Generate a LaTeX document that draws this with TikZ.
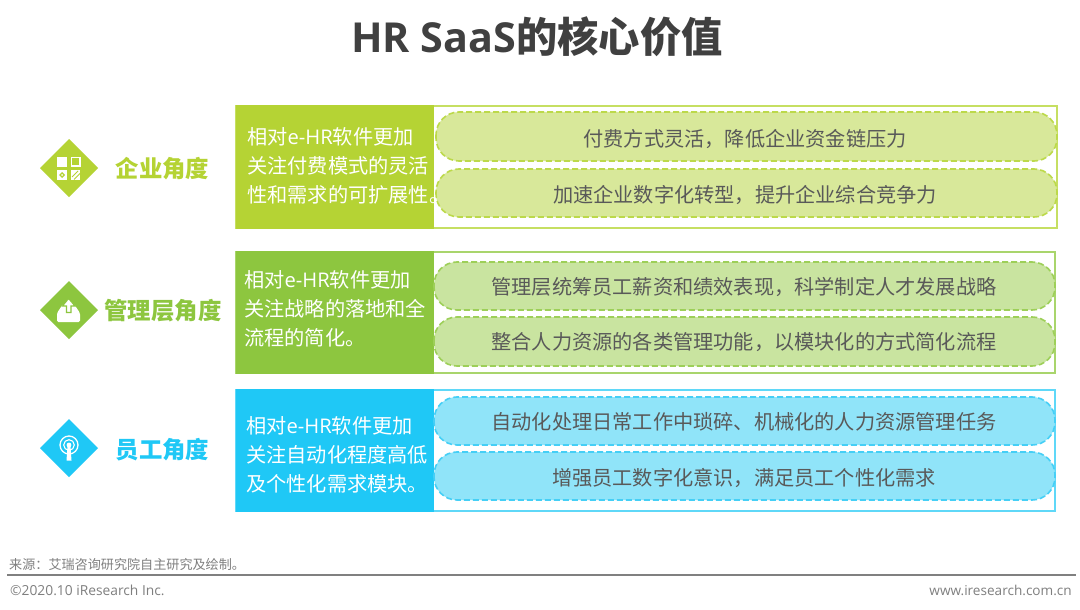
\documentclass[tikz,border=0pt]{standalone}
\usepackage{fontspec}
\setmainfont{Noto Sans CJK SC}
\newfontfamily\latinfont{Open Sans}
\usetikzlibrary{shapes.geometric}
\definecolor{gA}{HTML}{B5D334}
\definecolor{gAl}{HTML}{D8E89A}
\definecolor{gAb}{HTML}{C6DF62}
\definecolor{gAd}{HTML}{BCD94A}
\definecolor{gB}{HTML}{8DC63F}
\definecolor{gBl}{HTML}{C9E4A0}
\definecolor{gBb}{HTML}{A9D56C}
\definecolor{gBd}{HTML}{9DCF58}
\definecolor{gC}{HTML}{1FC8F6}
\definecolor{gCl}{HTML}{90E4F9}
\definecolor{gCb}{HTML}{5FD8F8}
\definecolor{gCd}{HTML}{45CFF6}
\definecolor{ink}{HTML}{595959}
\definecolor{footink}{HTML}{7F7F7F}
\definecolor{titleink}{HTML}{404040}
\tikzset{
 outerbox/.style={draw=#1,line width=1.4pt,fill=white},
 leftbox/.style={fill=#1,draw=none},
 pill/.style 2 args={draw=#1,fill=#2,line width=1.6pt,dash pattern=on 6pt off 3pt,rounded corners=23pt},
 diamondmark/.style={fill=#1,draw=none},
 lefttext/.style={text=white,font=\fontsize{20.2}{29}\selectfont,anchor=west,align=left,inner sep=0pt},
 pilltext/.style={text=ink,font=\fontsize{20.2}{24}\selectfont,anchor=center,inner sep=0pt},
 headtext/.style={text=#1,font=\bfseries\fontsize{23.4}{28}\selectfont,anchor=center,inner sep=0pt},
 iconw/.style={fill=white,draw=none},
}
\begin{document}
\begin{tikzpicture}[x=1pt,y=-1pt]
\useasboundingbox (0,0) rectangle (1080,610);
\fill[white] (0,0) rectangle (1080,610);
\node[text=titleink,font=\bfseries\fontsize{41.3}{46}\selectfont,inner sep=0pt] (title) at (537,37) {{\latinfont HR SaaS}的核心价值};

% row 1
\draw[outerbox=gAb] (236,106) rectangle (1057,228);
\fill[leftbox=gA] (236,105) rectangle (434,229);
\draw[pill={gAd}{gAl}] (436,112) rectangle (1057,161);
\draw[pill={gAd}{gAl}] (436,169) rectangle (1057,217);
\node[lefttext] (la) at (247,165.5) {相对{\latinfont e-HR}软件更加\\关注付费模式的灵活\\性和需求的可扩展性。};
\node[pilltext] (p1) at (745,139) {付费方式灵活，降低企业资金链压力};
\node[pilltext] (p2) at (745,195) {加速企业数字化转型，提升企业综合竞争力};
\fill[diamondmark=gA] (69,139) -- (98,168) -- (69,197) -- (40,168) -- cycle;
\node[headtext=gA] (ha) at (162.5,169) {企业角度};
% icon 1
\fill[iconw] (57,157) rectangle (67,167);
\draw[white,line width=1.2pt] (71.5,157.5) rectangle (80,166);
\fill[iconw] (57,170) rectangle (67,180);
\fill[gA] (62,172) -- (65,175) -- (62,178) -- (59,175) -- cycle;
\fill[white] (62,175) circle (1);
\fill[iconw] (71,170) rectangle (80,180);
\draw[gA,line width=1pt] (72,177) -- (78,171) (74,179.5) -- (80,173.5);

% row 2
\draw[outerbox=gBb] (236,252) rectangle (1055,373);
\fill[leftbox=gB] (236,251) rectangle (434,374);
\draw[pill={gBd}{gBl}] (434,262) rectangle (1055,310);
\draw[pill={gBd}{gBl}] (434,317) rectangle (1055,366);
\node[lefttext] (lb) at (244,308.5) {相对{\latinfont e-HR}软件更加\\关注战略的落地和全\\流程的简化。};
\node[pilltext] (p3) at (744,287) {管理层统筹员工薪资和绩效表现，科学制定人才发展战略};
\node[pilltext] (p4) at (744,342) {整合人力资源的各类管理功能，以模块化的方式简化流程};
\fill[diamondmark=gB] (69,281) -- (98,310) -- (69,339) -- (40,310) -- cycle;
\node[headtext=gB] (hb) at (163,311) {管理层角度};
% icon 2
\fill[iconw,rounded corners=1.5pt] (57,322) -- (57,313) -- (63,304) -- (74,304) -- (80,313) -- (80,322) -- cycle;
\draw[gB,line width=1.1pt,fill=white] (68.6,298.5) -- (75,306) -- (71,306) -- (71,312.5) -- (66.5,312.5) -- (66.5,306) -- (62.5,306) -- cycle;

% row 3
\draw[outerbox=gCb] (236,390) rectangle (1055,511);
\fill[leftbox=gC] (236,389) rectangle (434,512);
\draw[pill={gCd}{gCl}] (434,397) rectangle (1055,445);
\draw[pill={gCd}{gCl}] (434,452) rectangle (1055,500);
\node[lefttext] (lc) at (246,454.5) {相对{\latinfont e-HR}软件更加\\关注自动化程度高低\\及个性化需求模块。};
\node[pilltext] (p5) at (744,422) {自动化处理日常工作中琐碎、机械化的人力资源管理任务};
\node[pilltext] (p6) at (744,478) {增强员工数字化意识，满足员工个性化需求};
\fill[diamondmark=gC] (69,419) -- (98,448) -- (69,477) -- (40,448) -- cycle;
\node[headtext=gC] (hc) at (162.5,450) {员工角度};
% icon 3
\draw[white,line width=1.3pt] (69,445) circle (9);
\draw[white,line width=1.1pt] (69,445) circle (5.3);
\fill[white] (69,445) circle (2.4);
\fill[iconw] (67.5,446) -- (70.5,446) -- (71.5,460.5) -- (66.5,460.5) -- cycle;

% footer
\node[text=footink,font=\fontsize{13.1}{15}\selectfont,anchor=west,inner sep=0pt] (src) at (9,565) {来源：艾瑞咨询研究院自主研究及绘制。};
\coordinate (ruleL) at (7,575);
\coordinate (ruleR) at (1076,575);
\draw[color=black!50,line width=1.3pt] (ruleL) -- (ruleR);
\node[text=footink,font=\latinfont\fontsize{13.8}{15}\selectfont,anchor=west,inner sep=0pt] (cp) at (10,590) {©2020.10 iResearch Inc.};
\node[text=footink,font=\latinfont\fontsize{13.6}{15}\selectfont,anchor=east,inner sep=0pt] (web) at (1072,590) {www.iresearch.com.cn};
\end{tikzpicture}
\end{document}
